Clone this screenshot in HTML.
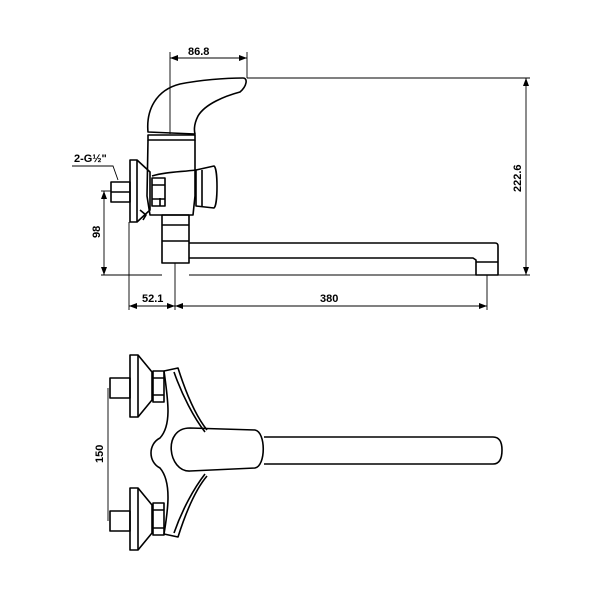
<!DOCTYPE html>
<html><head><style>body{margin:0;background:#fff}svg{display:block}text{font-family:"Liberation Sans",Arial,sans-serif;font-weight:bold;font-size:11px;fill:#000}</style></head>
<body>
<svg width="600" height="600" viewBox="0 0 600 600" xmlns="http://www.w3.org/2000/svg">
<defs><marker id="a" markerWidth="8" markerHeight="6" refX="8" refY="3" orient="auto-start-reverse" markerUnits="userSpaceOnUse"><path d="M0,0 L8,3 L0,6z" fill="#000"/></marker></defs>
<g fill="none" stroke="#000" stroke-width="1.6" stroke-linejoin="round">
<!-- handle -->
<path d="M148,132 C146,110 156,90 180,84 C200,80 225,78 243,78 C248,78 247,86 240,92 C225,96 205,104 198,116 C194,124 194,130 195,134 Z"/>
<path d="M148,135 L195,135 L195,140 L148,140 Z"/>
<!-- body -->
<path d="M148,140 L147,196 L150,215 L193,215 L195,196 L195,140"/>
<path d="M152,176 C165,172 180,172 196,170"/>
<path d="M160,198 L160,206"/>
<!-- right knob -->
<path d="M196,170 L214,166 C218,168 218,205 214,208 L196,206 Z"/>
<path d="M202,170 L202,206"/>
<!-- nut -->
<rect x="152" y="178" width="13" height="28"/>
<path d="M152,185 L165,185 M152,199 L165,199"/>
<!-- flange -->
<path d="M130,160 L137,160 L150,172 L150,210 L137,222 L130,222 Z"/>
<path d="M137,160 L137,222"/>
<path d="M140,210 L146,215 L143,220"/>
<!-- pipe -->
<rect x="111" y="182" width="19" height="20"/>
<path d="M111,192 L130,192"/>
<!-- lower tube -->
<rect x="162" y="215" width="27" height="48"/>
<path d="M162,225 L189,225 M162,241 L189,241"/>
<!-- spout -->
<path d="M189,243 L495,243 Q498,243 498,246 L498,258 L498,275 L476,275 L476,260 L473,258 L189,258"/>
<path d="M476,262 L498,262"/>
</g>
<g fill="none" stroke="#000" stroke-width="0.9">
<!-- dims top -->
<line x1="170" y1="52" x2="170" y2="134"/><line x1="247" y1="52" x2="247" y2="78"/>
<line x1="170" y1="58" x2="247" y2="58" marker-start="url(#a)" marker-end="url(#a)"/>
<line x1="247" y1="78" x2="530" y2="78"/><line x1="189" y1="275" x2="530" y2="275"/>
<line x1="526" y1="78" x2="526" y2="275" marker-start="url(#a)" marker-end="url(#a)"/>
<line x1="101" y1="191" x2="111" y2="191"/><line x1="101" y1="275" x2="162" y2="275"/>
<line x1="104" y1="191" x2="104" y2="275" marker-start="url(#a)" marker-end="url(#a)"/>
<path d="M72,166 L113,166 L118,180"/>
<line x1="129" y1="222" x2="129" y2="310"/><line x1="175" y1="263" x2="175" y2="310"/><line x1="487" y1="275" x2="487" y2="310"/>
<line x1="129" y1="306" x2="175" y2="306" marker-start="url(#a)" marker-end="url(#a)"/>
<line x1="175" y1="306" x2="487" y2="306" marker-start="url(#a)" marker-end="url(#a)"/>
<!-- bottom dim -->
<line x1="108" y1="388" x2="108" y2="521"/>
</g>
<text x="188" y="55">86.8</text>
<text x="74" y="162">2-G½"</text>
<text x="142" y="302">52.1</text>
<text x="320" y="302">380</text>
<text transform="translate(100,238) rotate(-90)">98</text>
<text transform="translate(521,192) rotate(-90)">222.6</text>
<text transform="translate(103,463) rotate(-90)">150</text>
<g fill="none" stroke="#000" stroke-width="1.6" stroke-linejoin="round">
<!-- upper valve -->
<path d="M130,355 L138,355 L152,372 L152,400 L138,417 L130,417 Z"/><path d="M138,355 L138,417"/>
<rect x="153" y="371" width="11" height="31"/><path d="M153,378 L164,378 M153,395 L164,395"/>
<rect x="110" y="378" width="20" height="20"/>
<!-- lower valve -->
<path d="M130,488 L138,488 L152,505 L152,533 L138,550 L130,550 Z"/><path d="M138,488 L138,550"/>
<rect x="153" y="503" width="11" height="32"/><path d="M153,510 L164,510 M153,528 L164,528"/>
<rect x="110" y="511" width="20" height="20"/>
<!-- body -->
<path d="M164,371 L178,368 C185,390 195,415 207,430"/>
<path d="M174,372 C182,395 194,418 205,432"/>
<path d="M164,534 L178,537 C185,515 195,490 207,476"/>
<path d="M174,533 C182,510 194,488 205,474"/>
<path d="M164,371 C168,400 172,425 160,438 C148,444 148,462 160,468 C172,482 168,510 164,534"/>
<!-- lever -->
<path d="M190,428 L255,430 C266,432 266,466 255,468 L190,471 C168,472 162,428 190,428 Z"/>
<path d="M264,437 L493,437 Q502,437 502,450 Q502,464 493,464 L264,464"/>
</g>
</svg>
</body></html>
